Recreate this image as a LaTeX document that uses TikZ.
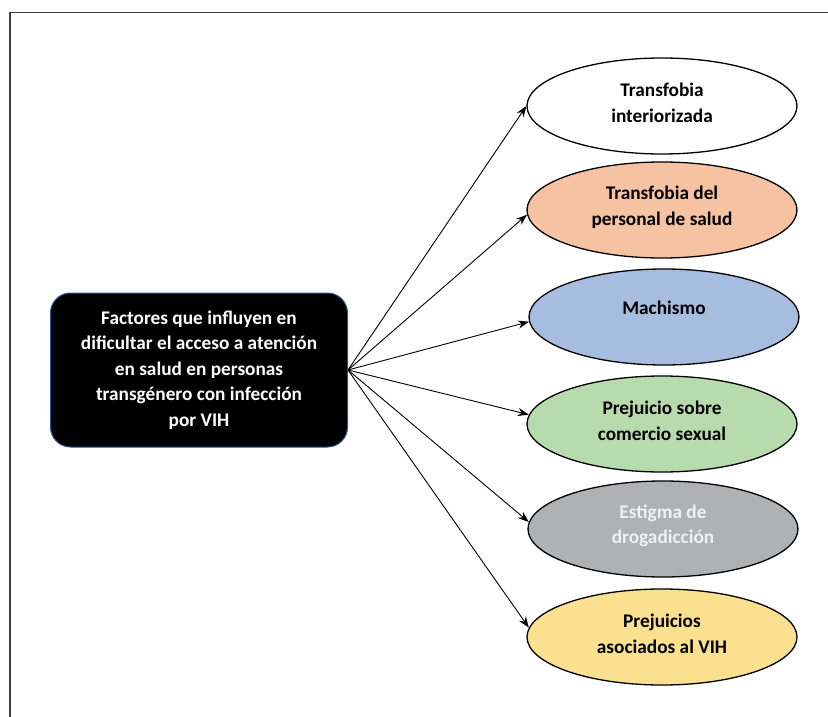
\documentclass[tikz,border=0pt]{standalone}
\usepackage{fontspec}
\setmainfont{Carlito}
\usetikzlibrary{shapes.geometric,arrows.meta}
\definecolor{peach}{HTML}{F5C3A1}
\definecolor{skyb}{HTML}{A7BDDF}
\definecolor{leaf}{HTML}{B8DBAD}
\definecolor{stone}{HTML}{AFB1B3}
\definecolor{butter}{HTML}{FBE08F}
\definecolor{rimblue}{HTML}{2F5597}
\definecolor{framegray}{HTML}{404040}
\begin{document}
\begin{tikzpicture}[x=1pt,y=-1pt,
  ell/.style={ellipse, draw=black, line width=1.3pt, minimum width=270pt, minimum height=96pt, inner sep=0pt},
  lbl/.style={align=center, font=\bfseries\fontsize{19.3}{25.5}\selectfont},
  conn/.style={-{Stealth[length=11pt,width=8pt]}, line width=0.9pt}]
\useasboundingbox (0,0) rectangle (828,717);
\draw[line width=1.2pt, draw=framegray] (10,717) -- (10,12.7) -- (828,12.7);

\node[draw=rimblue, line width=1pt, fill=black, rounded corners=20pt,
      minimum width=297pt, minimum height=154pt, text=white, lbl] (src) at (199,370)
  {Factores que influyen en\\dificultar el acceso a atención\\en salud en personas\\transgénero con infección\\por VIH};

\node[ell, fill=white]  (e1) at (662,106) {};
\node[ell, fill=peach]  (e2) at (662,210) {};
\node[ell, fill=skyb]   (e3) at (664,317) {};
\node[ell, fill=leaf]   (e4) at (662,424) {};
\node[ell, fill=stone]  (e5) at (663,529) {};
\node[ell, fill=butter] (e6) at (662,637) {};

\node[lbl] (t1) at ([yshift=3pt]e1.center) {Transfobia\\interiorizada};
\node[lbl] (t2) at ([yshift=3pt]e2.center) {Transfobia del\\personal de salud};
\node[lbl] (t3) at ([yshift=9pt]e3.center) {Machismo};
\node[lbl] (t4) at ([yshift=3pt]e4.center) {Prejuicio sobre\\comercio sexual};
\node[lbl, text=white!94!black] (t5) at ([yshift=3pt]e5.center) {Estigma de\\drogadicción};
\node[lbl] (t6) at ([yshift=3pt]e6.center) {Prejuicios\\asociados al VIH};

\draw[conn] (src.east) -- (e1.180);
\draw[conn] (src.east) -- (e2.182);
\draw[conn] (src.east) -- (e3.182);
\draw[conn] (src.east) -- (e4.176);
\draw[conn] (src.east) -- (e5.177.5);
\draw[conn] (src.east) -- (e6.176);
\end{tikzpicture}
\end{document}
